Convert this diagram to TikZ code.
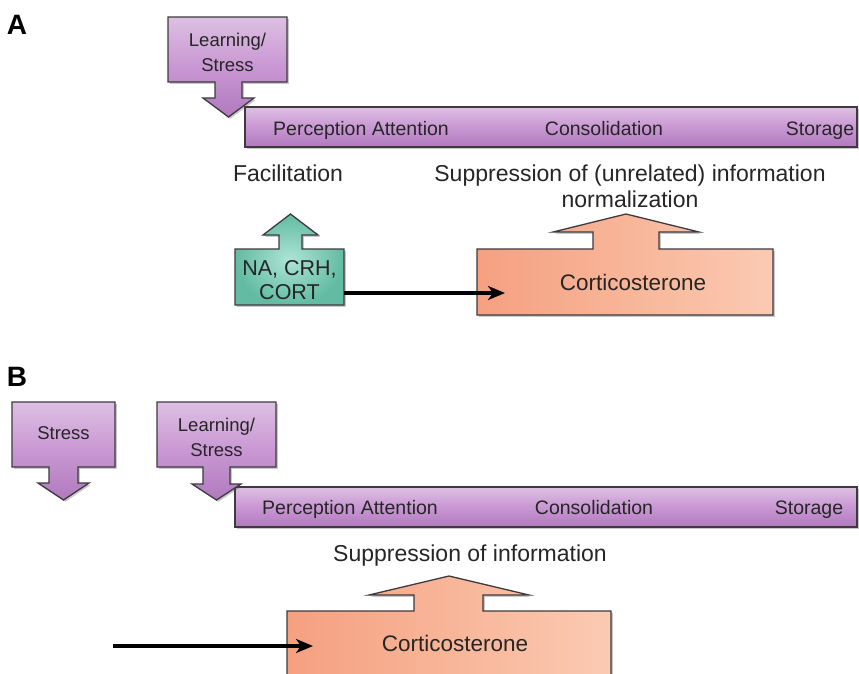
\documentclass[tikz,border=0pt]{standalone}
\usepackage{fontspec}
\setmainfont{Liberation Sans}
\usetikzlibrary{shadows,arrows.meta}
\definecolor{edge}{HTML}{3E3A40}
\definecolor{txt}{HTML}{262626}
\definecolor{pTop}{HTML}{DDC0E3}
\definecolor{pMid}{HTML}{C997D3}
\definecolor{pBot}{HTML}{B07ABD}
\definecolor{gIn}{HTML}{AEE4D5}
\definecolor{gOut}{HTML}{62BBA2}
\definecolor{oL}{HTML}{F5A081}
\definecolor{oM}{HTML}{F8B598}
\definecolor{oR}{HTML}{FBCAB3}
\begin{document}
\begin{tikzpicture}[x=1pt,y=-1pt,
  shp/.style={draw=edge, line width=1.3pt, line join=miter,
    drop shadow={shadow xshift=1.8pt, shadow yshift=-1.8pt, opacity=0.3, fill=black!70}},
  purp/.style={shp, top color=pTop, bottom color=pBot, middle color=pMid},
  grn/.style={shp, inner color=gIn, outer color=gOut},
  orng/.style={shp, left color=oL, right color=oR, middle color=oM},
  boxtxt/.style={font=\fontsize{18.5}{25}\selectfont, text=txt, align=center, inner sep=0pt},
  bartxt/.style={font=\fontsize{19.5}{22}\selectfont, text=txt, inner sep=0pt, anchor=base},
  lbl/.style={font=\fontsize{23}{26}\selectfont, text=txt, inner sep=0pt},
  grntxt/.style={font=\fontsize{21.5}{24}\selectfont, text=txt, align=center, inner sep=0pt},
  corttxt/.style={font=\fontsize{22.5}{25}\selectfont, text=txt, inner sep=0pt},
  panel/.style={font=\fontsize{28}{30}\selectfont\bfseries, text=black, inner sep=0pt},
  conn/.style={draw=black, line width=3.4pt, -{Stealth[length=17pt,width=14pt,inset=5pt]}}
]
\clip (0,0) rectangle (859,673);
\fill[white] (0,0) rectangle (859,673);

% ---------------- Panel A ----------------
\node[panel] (labA) at (17,25) {A};

\shade[purp] (245,107) rectangle (857,147);
\shade[purp] (168,17) -- (287,17) -- (287,82) -- (242,82) -- (242,98) -- (254,98)
  -- (228.5,117) -- (203,98) -- (215,98) -- (215,82) -- (168,82) -- cycle;
\node[boxtxt] (lsA) at (227.5,52) {Learning/\\Stress};

\node[bartxt] (percA) at (361,135) {Perception Attention};
\node[bartxt] (consA) at (604,135) {Consolidation};
\node[bartxt] (storA) at (820,135) {Storage};

\node[lbl, anchor=base] (facil) at (288,181) {Facilitation};
\node[lbl, anchor=base] (suppA) at (630,181) {Suppression of (unrelated) information};
\node[lbl, anchor=base] (normA) at (630,207) {normalization};

\shade[grn] (235,249) -- (279,249) -- (279,235) -- (263,235) -- (290.5,214) -- (318,235)
  -- (302,235) -- (302,249) -- (344,249) -- (344,305) -- (235,305) -- cycle;
\node[inner sep=0pt, minimum width=109pt, minimum height=56pt] (greenbox) at (289.5,277) {};
\node[grntxt] (nacr) at (289.5,280) {NA, CRH,\\CORT};

\shade[orng] (477,249) -- (593,249) -- (593,232) -- (553,232) -- (626,214) -- (699,232)
  -- (659,232) -- (659,249) -- (773,249) -- (773,315) -- (477,315) -- cycle;
\node[corttxt] (cortA) at (633,282) {Corticosterone};
\coordinate (cortAin) at (505,293);
\draw[conn] (greenbox.east |- cortAin) -- (cortAin);

% ---------------- Panel B ----------------
\node[panel] (labB) at (17,377) {B};

\shade[purp] (12,402) -- (115,402) -- (115,467) -- (78,467) -- (78,483) -- (89,483)
  -- (63.5,500) -- (38,483) -- (49,483) -- (49,467) -- (12,467) -- cycle;
\node[boxtxt] (strB) at (63.5,433) {Stress};

\shade[purp] (235,487) rectangle (857,527);
\shade[purp] (157,402) -- (276,402) -- (276,467) -- (230,467) -- (230,484) -- (241,484)
  -- (216.5,500) -- (192,484) -- (203,484) -- (203,467) -- (157,467) -- cycle;
\node[boxtxt] (lsB) at (216.5,437) {Learning/\\Stress};

\node[bartxt] (percB) at (350,514) {Perception Attention};
\node[bartxt] (consB) at (594,514) {Consolidation};
\node[bartxt] (storB) at (809,514) {Storage};

\node[lbl, anchor=base] (suppB) at (470,561) {Suppression of information};

\shade[orng] (287,611) -- (414,611) -- (414,595) -- (369,595) -- (449,576) -- (529,595)
  -- (483,595) -- (483,611) -- (611,611) -- (611,700) -- (287,700) -- cycle;
\node[corttxt] (cortB) at (455,643) {Corticosterone};
\coordinate (srcB) at (113,646);
\coordinate (cortBin) at (313,646);
\draw[conn] (srcB) -- (cortBin);
\end{tikzpicture}
\end{document}
